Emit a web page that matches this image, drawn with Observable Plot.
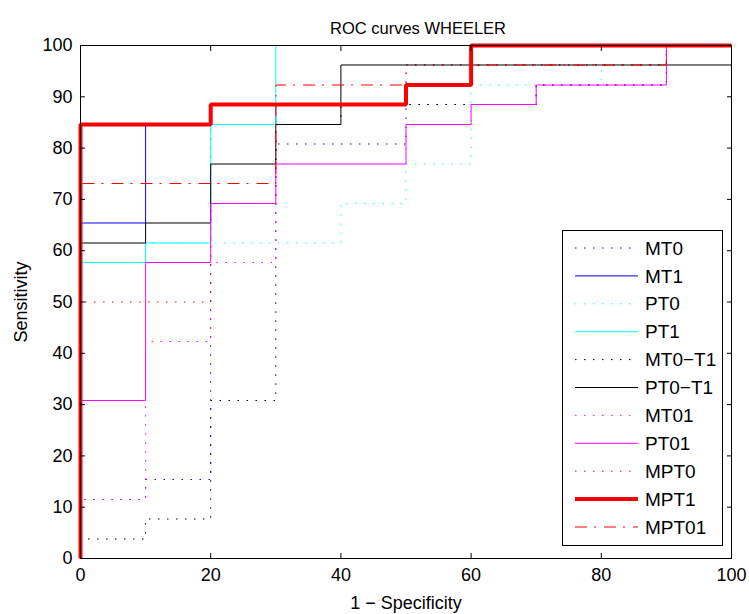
<!DOCTYPE html>
<html><head><meta charset="utf-8">
<script src="https://cdn.jsdelivr.net/npm/d3@7"></script>
<script src="https://cdn.jsdelivr.net/npm/@observablehq/plot@0.6"></script>
<style>
body{margin:0;background:#fff}
#chart{width:749px;height:614px}
</style>
</head><body><div id="chart"></div>
<script>
// 1 - specificity (%)
const fpr = [0, 10, 20, 30, 40, 50, 60, 70, 80, 90, 100];
// sensitivity (%) — value reached at each fpr step (step-before)
const MT0   = [0, 11.5, 15.4, 69.2, 80.8, 80.8, 88.5, 88.5, 92.3, 92.3, 100];
const MT1   = [0, 65.4, 84.6, 84.6, 88.5, 88.5, 92.3, 100, 100, 100, 100];
const PT0   = [0, 57.7, 61.5, 61.5, 61.5, 69.2, 76.9, 92.3, 92.3, 96.2, 100];
const PT1   = [0, 57.7, 61.5, 84.6, 100, 100, 100, 100, 100, 100, 100];
const MT0T1 = [0, 3.8, 7.7, 30.8, 84.6, 88.5, 88.5, 88.5, 92.3, 92.3, 100];
const PT0T1 = [0, 61.5, 65.4, 76.9, 84.6, 96.2, 96.2, 96.2, 96.2, 96.2, 96.2];
const MT01  = [0, 11.5, 42.3, 57.7, 84.6, 88.5, 96.2, 96.2, 96.2, 96.2, 100];
const PT01  = [0, 30.8, 57.7, 69.2, 76.9, 76.9, 84.6, 88.5, 92.3, 92.3, 100];
const MPT0  = [0, 50, 50, 88.5, 88.5, 88.5, 96.2, 96.2, 96.2, 96.2, 100];
const MPT1  = [0, 84.6, 84.6, 88.5, 88.5, 88.5, 92.3, 100, 100, 100, 100];
const MPT01 = [0, 73.1, 73.1, 73.1, 92.3, 92.3, 92.3, 96.2, 96.2, 96.2, 100];

const seriesNames = ["MT0", "MT1", "PT0", "PT1", "MT0\u2212T1", "PT0\u2212T1", "MT01", "PT01", "MPT0", "MPT1", "MPT01"];
const seriesValues = [MT0, MT1, PT0, PT1, MT0T1, PT0T1, MT01, PT01, MPT0, MPT1, MPT01];
const seriesColors = ["#0000ff", "#0000ff", "#00ffff", "#00ffff", "#000000", "#000000", "#ff00ff", "#ff00ff", "#ff0000", "#ff0000", "#ff0000"];
const seriesStyles = ["dot", "solid", "dot", "solid", "dot", "solid", "dot", "solid", "dot", "thick", "dashdot"];

const xTicks = [0, 20, 40, 60, 80, 100];
const yTicks = [0, 10, 20, 30, 40, 50, 60, 70, 80, 90, 100];

const titleText = "ROC curves WHEELER";
const xLabel = "1 \u2212 Specificity";
const yLabel = "Sensitivity";

const FONT = "'Liberation Sans', Arial, Helvetica, sans-serif";
const dashFor = s => s === "dot" ? "1.5,7.5" : s === "dashdot" ? "12,7,2,8" : null;
const widthFor = s => s === "thick" ? 4 : 1;

const rows = seriesNames.flatMap((name, i) =>
  fpr.map((x, j) => ({name, x, y: seriesValues[i][j]})));

// draw order: dotted first, then solid, then thick, then dash-dot
const order = seriesNames.map((n, i) => i).sort((a, b) => {
  const rank = s => ({dot: 0, solid: 1, thick: 2, dashdot: 3})[s];
  return rank(seriesStyles[a]) - rank(seriesStyles[b]) || a - b;
});

const lineMarks = order.map(i => Plot.line(rows.filter(d => d.name === seriesNames[i]), {
  x: "x", y: "y", curve: "step-before",
  stroke: seriesColors[i], strokeWidth: widthFor(seriesStyles[i]),
  strokeDasharray: dashFor(seriesStyles[i]), strokeLinecap: "butt", strokeLinejoin: "miter"
}));

const chart = Plot.plot({
  width: 749, height: 614,
  marginLeft: 80, marginRight: 18, marginTop: 45, marginBottom: 56,
  style: {fontFamily: FONT, fontSize: "18px", color: "#000", background: "#fff", overflow: "visible"},
  x: {domain: [0, 100]},
  y: {domain: [0, 100]},
  marks: [
    ...lineMarks,
    Plot.frame({stroke: "#000", strokeWidth: 1}),
    Plot.axisX(xTicks, {anchor: "bottom", tickSize: -5, tickPadding: 15, fontSize: 18,
      label: xLabel, labelAnchor: "center", labelOffset: 50, labelArrow: "none"}),
    Plot.axisX(xTicks, {anchor: "top", tickSize: -5, tickFormat: () => "", label: null}),
    Plot.axisY(yTicks, {anchor: "left", tickSize: -5, tickPadding: 13, fontSize: 18,
      label: yLabel, labelAnchor: "center", labelOffset: 66, labelArrow: "none"}),
    Plot.axisY(yTicks, {anchor: "right", tickSize: -5, tickFormat: () => "", label: null}),
    Plot.text([titleText], {frameAnchor: "top", dy: -23, dx: 12, fontSize: 16.5, fill: "#000"})
  ]
});

document.getElementById("chart").appendChild(chart);

// legend (inside the axes, lower right)
const svg = d3.select(chart.tagName.toLowerCase() === "svg" ? chart : chart.querySelector("svg"));
const lg = svg.append("g").attr("font-family", FONT).attr("font-size", 19).attr("text-anchor", "start");
const box = {x: 562, y: 230, w: 160, h: 315};
lg.append("rect").attr("x", box.x + 0.5).attr("y", box.y + 0.5).attr("width", box.w).attr("height", box.h)
  .attr("fill", "#fff").attr("stroke", "#000").attr("stroke-width", 1);
seriesNames.forEach((name, i) => {
  const cy = box.y + 18 + i * 27.9;
  lg.append("line").attr("x1", box.x + 13).attr("x2", box.x + 76).attr("y1", cy).attr("y2", cy)
    .attr("stroke", seriesColors[i]).attr("stroke-width", widthFor(seriesStyles[i]))
    .attr("stroke-dasharray", dashFor(seriesStyles[i]));
  lg.append("text").attr("x", box.x + 83).attr("y", cy).attr("dy", "0.35em")
    .attr("text-anchor", "start").attr("fill", "#000").text(name);
});
</script></body></html>
